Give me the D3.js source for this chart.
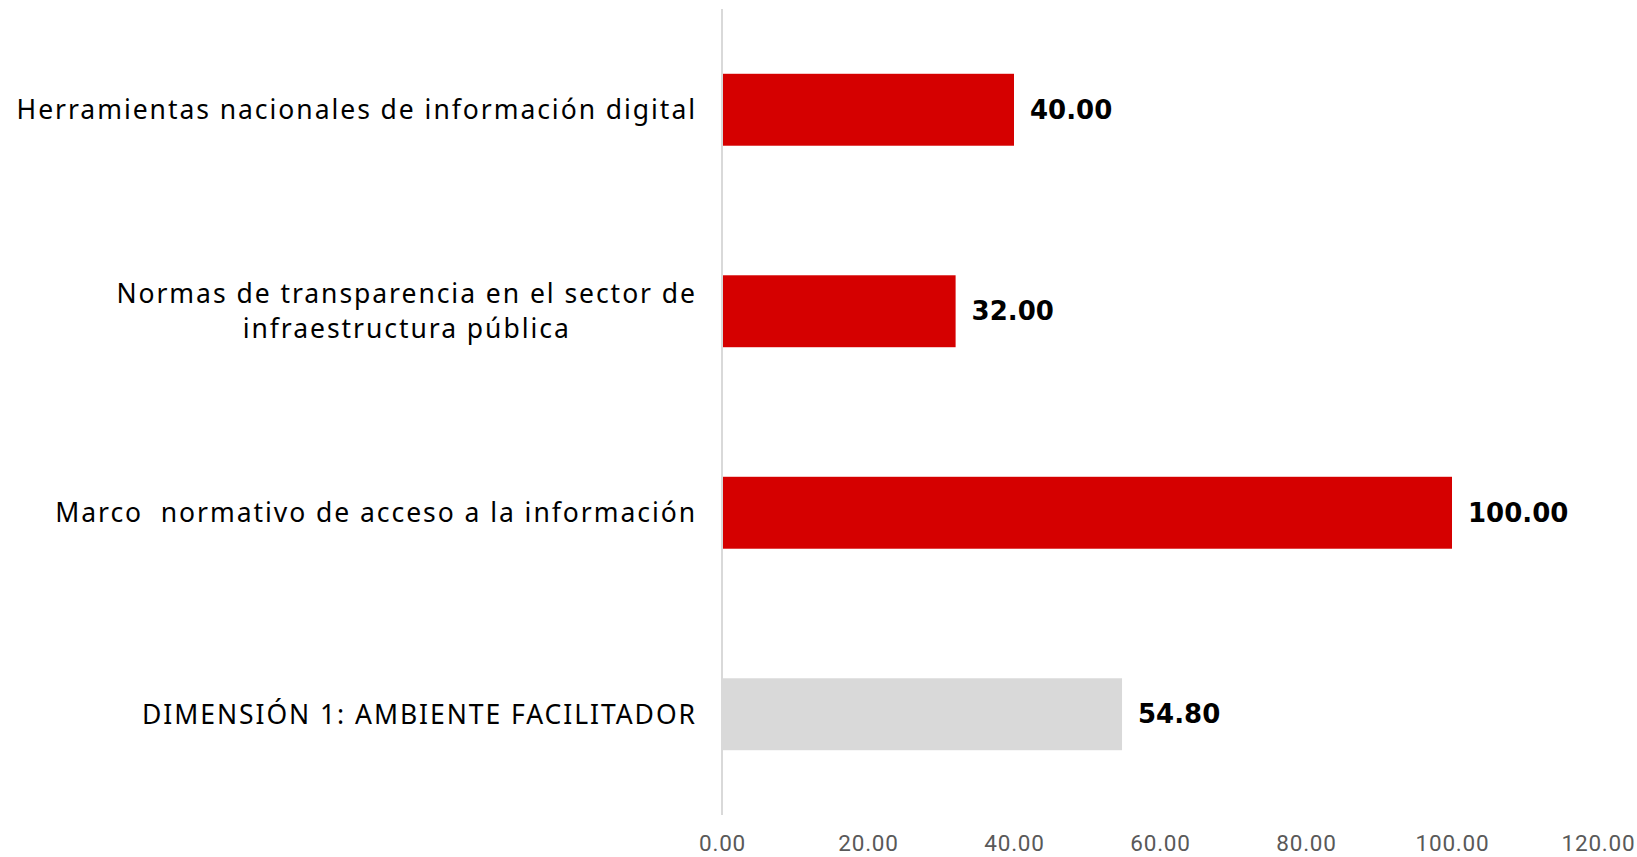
<!DOCTYPE html>
<html>
<head>
<meta charset="utf-8">
<script src="https://cdn.jsdelivr.net/npm/d3@7"></script>
<style>
  body { margin: 0; background: #fff; }
  svg { display: block; }
</style>
</head>
<body>
<script>
// Chart data
const categories = [
  ["Herramientas nacionales de información digital"],
  ["Normas de transparencia en el sector de", "infraestructura pública"],
  ["Marco  normativo de acceso a la información"],
  ["DIMENSIÓN 1: AMBIENTE FACILITADOR"]
];
const values = [40.00, 32.00, 100.00, 54.80];
const barColors = ["#D50000", "#D50000", "#D50000", "#D9D9D9"];
const tickValues = [0, 20, 40, 60, 80, 100, 120];

const WIDTH = 1637;
const HEIGHT = 857;
const LABEL_FONT = "'Noto Sans', 'Open Sans', sans-serif";

function initCanvas() {
  return d3.select("body").append("svg")
    .attr("width", WIDTH)
    .attr("height", HEIGHT);
}

function drawChart(svg) {
  const x = d3.scaleLinear().domain([0, 120]).range([722, 1598]);
  const y = d3.scaleBand()
    .domain(d3.range(categories.length))
    .range([9, 815])
    .paddingInner(0.643)
    .paddingOuter(0.3215);

  // bars
  svg.append("g").selectAll("rect")
    .data(values)
    .join("rect")
    .attr("x", x(0))
    .attr("y", (d, i) => y(i))
    .attr("width", d => x(d) - x(0))
    .attr("height", y.bandwidth())
    .attr("fill", (d, i) => barColors[i]);

  // vertical axis line
  svg.append("line")
    .attr("x1", x(0)).attr("x2", x(0))
    .attr("y1", 9).attr("y2", 815)
    .attr("stroke", "#D9D9D9")
    .attr("stroke-width", 2);

  // x tick labels
  const xAxis = d3.axisBottom(x)
    .tickValues(tickValues)
    .tickFormat(d3.format(".2f"))
    .tickSize(0)
    .tickPadding(0);
  const gx = svg.append("g")
    .attr("transform", "translate(0,835)")
    .call(xAxis);
  gx.select(".domain").remove();
  gx.selectAll("text")
    .attr("font-family", "Roboto, sans-serif")
    .attr("font-size", 22.5)
    .attr("letter-spacing", 0.8)
    .attr("fill", "#595959");

  // category labels
  const labelRight = 697;
  const lineGap = 35;
  const labels = svg.append("g")
    .attr("font-family", LABEL_FONT)
    .attr("font-size", 26.5)
    .attr("letter-spacing", 1.95)
    .attr("fill", "#000");

  categories.forEach((lines, i) => {
    const cy = y(i) + y.bandwidth() / 2;
    const grp = labels.append("g");
    const texts = lines.map((ln, j) => grp.append("text")
      .attr("xml:space", "preserve")
      .style("white-space", "pre")
      .attr("y", cy + (j - (lines.length - 1) / 2) * lineGap)
      .attr("dy", "0.35em")
      .text(ln));
    const maxW = d3.max(texts, t => t.node().getComputedTextLength());
    texts.forEach(t => t
      .attr("text-anchor", "middle")
      .attr("x", labelRight - maxW / 2));
  });

  // value labels
  svg.append("g").selectAll("text")
    .data(values)
    .join("text")
    .attr("x", d => x(d) + 16)
    .attr("y", (d, i) => y(i) + y.bandwidth() / 2)
    .attr("dy", "0.35em")
    .attr("font-family", "'DejaVu Sans', sans-serif")
    .attr("font-weight", "bold")
    .attr("font-size", 26)
    .attr("fill", "#000")
    .text(d => d3.format(".2f")(d));
}

function main() {
  const svg = initCanvas();
  drawChart(svg);
}

main();
</script>
</body>
</html>
